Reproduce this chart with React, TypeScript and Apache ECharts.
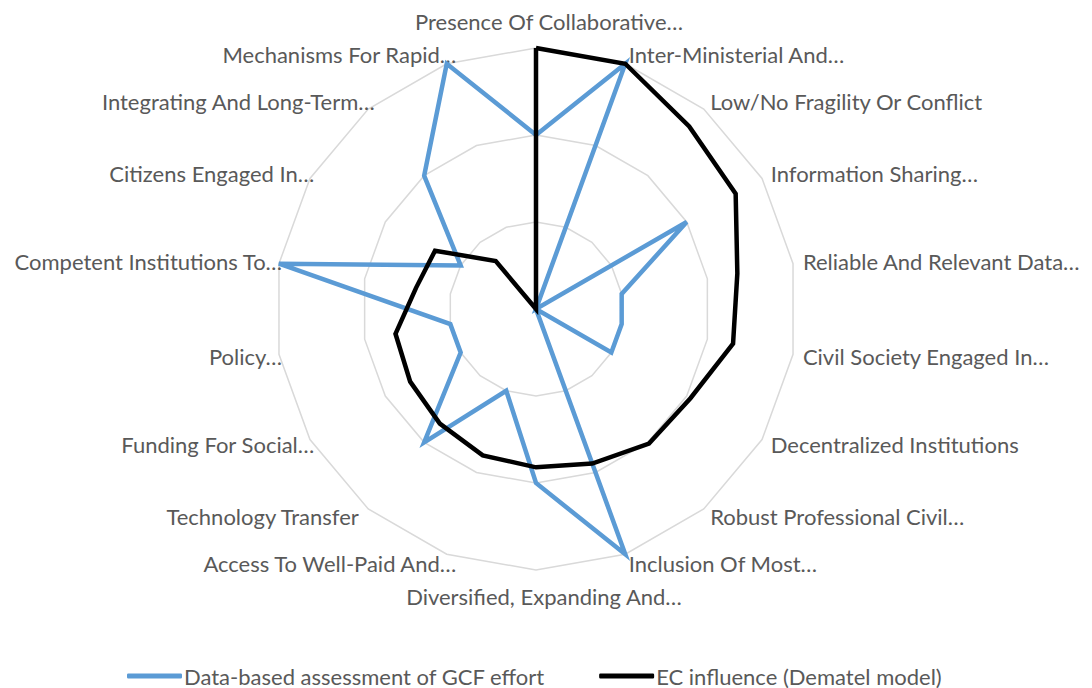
import React, { useEffect, useRef } from "react";
import * as echarts from "echarts";

const indicatorNames = [
  "Presence Of Collaborative…",
  "Inter-Ministerial And…",
  "Low/No Fragility Or Conflict",
  "Information Sharing…",
  "Reliable And Relevant Data…",
  "Civil Society Engaged In…",
  "Decentralized Institutions",
  "Robust Professional Civil…",
  "Inclusion Of Most…",
  "Diversified, Expanding And…",
  "Access To Well-Paid And…",
  "Technology Transfer",
  "Funding For Social…",
  "Policy…",
  "Competent Institutions To…",
  "Citizens Engaged In…",
  "Integrating And Long-Term…",
  "Mechanisms For Rapid…",
];

const gcfEffort = [2, 3, 0, 2, 1, 1, 1, 0, 3, 2, 1, 2, 1, 1, 3, 1, 2, 3];
const ecInfluence = [3, 3, 2.74, 2.65, 2.35, 2.3, 2.05, 2.02, 1.89, 1.82, 1.79, 1.72, 1.67, 1.64, 1.4, 1.34, 0.72, 0];

const seriesNames = ["Data-based assessment of GCF effort", "EC influence (Dematel model)"];
const maxValue = 3;

// ECharts places radar indicators counter-clockwise; reorder to draw clockwise
const clockwiseOrder = <T,>(arr: T[]): T[] => [arr[0], ...arr.slice(1).reverse()];

export default function App() {
  const ref = useRef<HTMLDivElement>(null);
  useEffect(() => {
    if (!ref.current) return;
    const chart = echarts.init(ref.current, null, { renderer: "svg" });
    const font = "Lato, 'Open Sans', sans-serif";
    const n = indicatorNames.length;
    const labelBase = { color: "#595959", fontSize: 22, fontFamily: font };
    chart.setOption({
      animation: false,
      backgroundColor: "#ffffff",
      legend: {
        data: seriesNames,
        left: 122,
        top: 658,
        icon: "roundRect",
        itemWidth: 55,
        itemHeight: 5,
        itemGap: 54,
        textStyle: { color: "#595959", fontSize: 22, fontFamily: font, lineHeight: 26, padding: [0, 0, 0, -3] },
      },
      radar: {
        center: [536, 309],
        radius: 261,
        startAngle: 90,
        shape: "polygon",
        splitNumber: 3,
        nameGap: 10,
        indicator: clockwiseOrder(indicatorNames).map((name) => ({ name, min: 0, max: maxValue })),
        axisName: {
          ...labelBase,
          formatter: (name: string) => {
            const i = indicatorNames.indexOf(name);
            const angle = (i * 360) / n;
            if (i === 0) return `{top|${name}}`;
            if (angle === 180) return `{bottom|${name}}`;
            if (angle > 180 && name.endsWith("…")) return `{leftEll|${name}}`;
            if (angle > 180) return `{left|${name}}`;
            return `{plain|${name}}`;
          },
          rich: {
            plain: { ...labelBase },
            top: { ...labelBase, padding: [0, -26, 6, 0] },
            bottom: { ...labelBase, padding: [5, -16, 0, 0] },
            leftEll: { ...labelBase, padding: [0, -13, 0, 0] },
            left: { ...labelBase, padding: [0, 3, 0, 0] },
          },
        },
        axisLine: { show: false },
        axisTick: { show: false },
        axisLabel: { show: false },
        splitArea: { show: false },
        splitLine: { lineStyle: { color: "#d9d9d9", width: 1.5 } },
      },
      series: [
        {
          type: "radar",
          symbol: "none",
          data: [
            {
              name: seriesNames[0],
              value: clockwiseOrder(gcfEffort),
              lineStyle: { color: "#5b9bd5", width: 4.5, join: "miter" },
              itemStyle: { color: "#5b9bd5" },
            },
            {
              name: seriesNames[1],
              value: clockwiseOrder(ecInfluence),
              lineStyle: { color: "#000000", width: 4.5, join: "miter" },
              itemStyle: { color: "#000000" },
            },
          ],
        },
      ],
    });
    return () => chart.dispose();
  }, []);
  return (
    <div
      ref={ref}
      style={{ position: "fixed", left: 0, top: 0, width: 1092, height: 688, background: "#fff" }}
    />
  );
}
